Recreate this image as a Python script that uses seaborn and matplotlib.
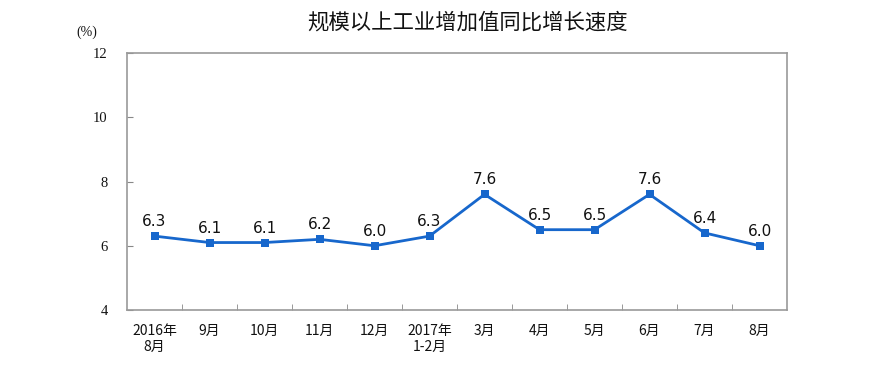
import pandas as pd
import numpy as np
import matplotlib.pyplot as plt
import seaborn as sns

months = ['2016年\n8月', '9月', '10月', '11月', '12月', '2017年\n1-2月',
          '3月', '4月', '5月', '6月', '7月', '8月']
growth = [6.3, 6.1, 6.1, 6.2, 6.0, 6.3, 7.6, 6.5, 6.5, 7.6, 6.4, 6.0]
yticks = [4, 6, 8, 10, 12]

sns.set_style('white')
plt.rcParams['font.family'] = ['Noto Sans CJK SC', 'DejaVu Sans']

df = pd.DataFrame({'pos': np.arange(len(months)), 'val': growth})

fig = plt.figure(figsize=(8.7, 3.82), dpi=100)
ax = fig.add_axes([0.146, 0.1885, 0.7586, 0.6727])

blue = '#1767CC'
sns.lineplot(data=df, x='pos', y='val', ax=ax, color=blue, linewidth=2,
             marker='s', markersize=6, markeredgewidth=0)

# data labels above each point
for x, v in zip(df['pos'], df['val']):
    ax.annotate(f'{v:.1f}', (x, v), xytext=(0, 5), textcoords='offset points',
                ha='center', va='bottom', fontsize=11, color='#111111',
                family=['DejaVu Sans'])

ax.set_xlim(-0.5, len(months) - 0.5)
ax.set_ylim(4, 12)
ax.set_yticks(yticks)
ax.set_yticklabels([str(t) for t in yticks], family=['Liberation Serif'], fontsize=10.5)
ax.set_xticks(np.arange(len(months)))
ax.set_xticklabels(months, fontsize=10, linespacing=1.15)
ax.set_xticks(np.arange(len(months) - 1) + 0.5, minor=True)
ax.tick_params(axis='x', which='major', length=0, pad=10, labelcolor='#111111')
ax.tick_params(axis='x', which='minor', direction='in', length=4, color='#888888', bottom=True)
ax.tick_params(axis='y', direction='in', length=4, color='#888888', left=True, pad=14,
               labelcolor='#111111')
ax.set_xlabel('')
ax.set_ylabel('')
for s in ax.spines.values():
    s.set_color('#999999')
    s.set_linewidth(1.2)

fig.text(87 / 870, 1 - 32 / 382, '(%)', ha='center', va='center',
         family=['Liberation Serif'], fontsize=10, color='#111111')
fig.text(468 / 870, 1 - 23 / 382, '规模以上工业增加值同比增长速度', ha='center',
         va='center', fontsize=15.4, fontweight='medium', color='#111111')

fig.savefig('out.png', dpi=100, facecolor='white')
